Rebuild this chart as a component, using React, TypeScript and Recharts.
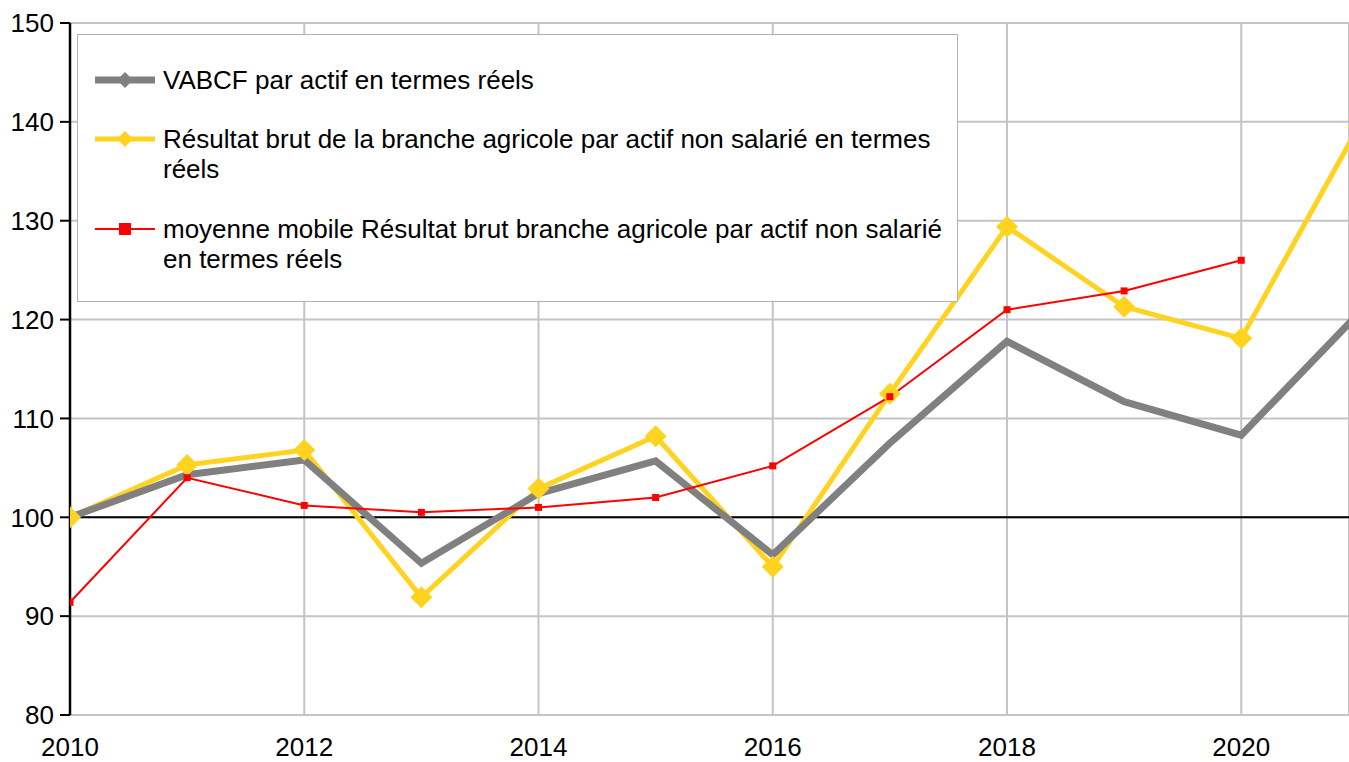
import { LineChart, Line, XAxis, YAxis, CartesianGrid, ReferenceLine } from "recharts";

const years = [2010, 2011, 2012, 2013, 2014, 2015, 2016, 2017, 2018, 2019, 2020, 2021];
const vabcf = [100, 104.3, 105.8, 95.35, 102.4, 105.7, 96.2, 107.5, 117.8, 111.7, 108.3, 120.6];
const resultatBrut = [100, 105.3, 106.8, 91.9, 102.9, 108.2, 95.0, 112.5, 129.4, 121.3, 118.1, 139.5];
const moyenneMobile = [91.4, 104.0, 101.2, 100.5, 101.0, 102.0, 105.2, 112.2, 121.0, 122.9, 126.0, null];

const xTicks = [2010, 2012, 2014, 2016, 2018, 2020];
const yTicks = [80, 90, 100, 110, 120, 130, 140, 150];

const legendLabels = [
  "VABCF par actif en termes réels",
  "Résultat brut de la branche agricole par actif non salarié en termes réels",
  "moyenne mobile Résultat brut branche agricole par actif non salarié en termes réels",
];

const GRAY = "#808080";
const YELLOW = "#ffd320";
const RED = "#ff0000";
const FONT = '"Liberation Sans", Arial, sans-serif';

const data = years.map((year, i) => ({
  year,
  vabcf: vabcf[i],
  resultat: resultatBrut[i],
  moyenne: moyenneMobile[i],
}));

// diamond marker for the yellow series
function Diamond(props: any) {
  const { cx, cy } = props;
  if (cx == null || cy == null) return null;
  const r = 11;
  return (
    <path
      key={`d-${cx}`}
      d={`M${cx},${cy - r} L${cx + r},${cy} L${cx},${cy + r} L${cx - r},${cy} Z`}
      fill={YELLOW}
    />
  );
}

function Square(props: any) {
  const { cx, cy } = props;
  if (cx == null || cy == null) return null;
  return <rect key={`s-${cx}`} x={cx - 3.5} y={cy - 3.5} width={7} height={7} fill={RED} />;
}

function LegendIcon({ color, width, marker }: { color: string; width: number; marker: "diamond" | "square" }) {
  return (
    <svg width={62} height={24} style={{ flex: "none", display: "block" }}>
      <line x1={0} y1={12} x2={60} y2={12} stroke={color} strokeWidth={width} />
      {marker === "diamond" ? (
        <path d="M30,4 L38,12 L30,20 L22,12 Z" fill={color} />
      ) : (
        <rect x={24} y={6} width={12} height={12} fill={color} />
      )}
    </svg>
  );
}

function ChartLegend() {
  const items = [
    { label: legendLabels[0], color: GRAY, width: 7, marker: "diamond" as const },
    { label: legendLabels[1], color: YELLOW, width: 5, marker: "diamond" as const },
    { label: legendLabels[2], color: RED, width: 2, marker: "square" as const },
  ];
  return (
    <div
      style={{
        position: "absolute",
        left: 77,
        top: 34,
        width: 881,
        height: 268,
        boxSizing: "border-box",
        border: "1px solid #b3b3b3",
        background: "#fff",
        padding: "30px 0 0 17px",
        fontFamily: FONT,
        fontSize: 26,
        lineHeight: "30px",
        color: "#000",
      }}
    >
      {items.map((it, i) => (
        <div key={i} style={{ display: "flex", alignItems: "flex-start", marginBottom: i === 0 ? 29 : 30 }}>
          <div style={{ marginTop: 3 }}>
            <LegendIcon color={it.color} width={it.width} marker={it.marker} />
          </div>
          <div style={{ marginLeft: 6, width: 800 }}>{it.label}</div>
        </div>
      ))}
    </div>
  );
}

export default function App() {
  return (
    <div style={{ position: "absolute", left: 0, top: 0, width: 1349, height: 762, background: "#fff" }}>
      <LineChart width={1349} height={762} data={data} margin={{ top: 23, right: 0, bottom: 0, left: 0 }}>
        <CartesianGrid stroke="#c4c4c4" strokeWidth={2} />
        <XAxis
          dataKey="year"
          type="number"
          domain={[2010, 2020.92]}
          allowDataOverflow
          ticks={xTicks}
          axisLine={false}
          tickLine={false}
          tickMargin={17}
          height={47}
          tick={{ fill: "#000", fontSize: 26, fontFamily: FONT }}
        />
        <YAxis
          domain={[80, 150]}
          ticks={yTicks}
          allowDataOverflow
          width={70}
          axisLine={{ stroke: "#000", strokeWidth: 2.5 }}
          tickLine={{ stroke: "#000", strokeWidth: 2 }}
          tickSize={10}
          tickMargin={6}
          tick={{ fill: "#000", fontSize: 26, fontFamily: FONT }}
        />
        <ReferenceLine y={100} stroke="#000" strokeWidth={2} />
        <Line
          dataKey="resultat"
          stroke={YELLOW}
          strokeWidth={5}
          dot={<Diamond />}
          activeDot={false}
          isAnimationActive={false}
        />
        <Line dataKey="vabcf" stroke={GRAY} strokeWidth={7} dot={false} activeDot={false} isAnimationActive={false} />
        <Line
          dataKey="moyenne"
          stroke={RED}
          strokeWidth={2}
          dot={<Square />}
          activeDot={false}
          isAnimationActive={false}
        />
      </LineChart>
      <ChartLegend />
    </div>
  );
}
